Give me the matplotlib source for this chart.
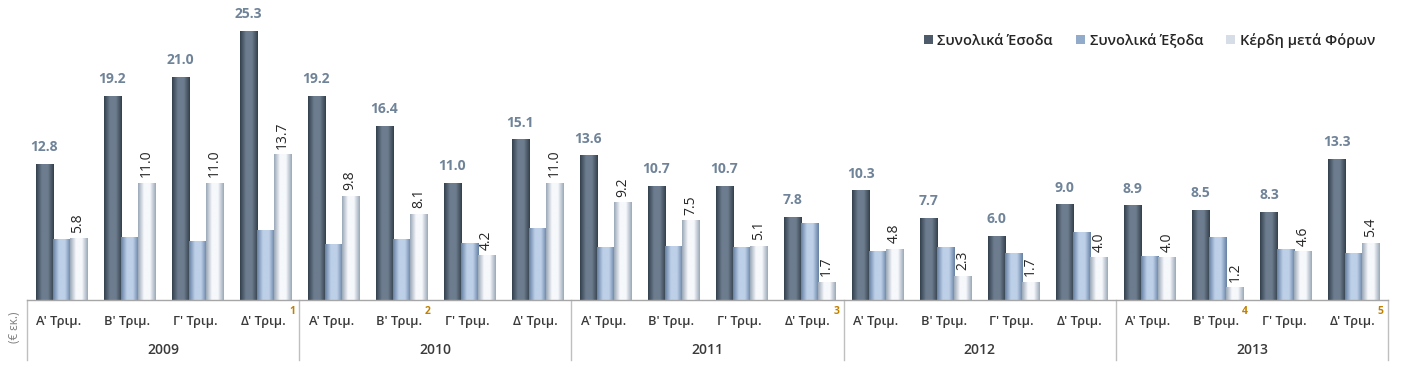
import numpy as np
import matplotlib.pyplot as plt
from matplotlib.colors import LinearSegmentedColormap
from matplotlib.patches import Patch
import matplotlib.transforms as mtransforms

plt.rcParams['font.family'] = ['Open Sans', 'DejaVu Sans']

# Data (€ million)
years = ['2009', '2010', '2011', '2012', '2013']
quarters = ["Α' Τριμ.", "Β' Τριμ.", "Γ' Τριμ.", "Δ' Τριμ."]
income = [12.8, 19.2, 21.0, 25.3, 19.2, 16.4, 11.0, 15.1, 13.6, 10.7,
          10.7, 7.8, 10.3, 7.7, 6.0, 9.0, 8.9, 8.5, 8.3, 13.3]
expenses = [5.7, 5.9, 5.5, 6.6, 5.3, 5.7, 5.4, 6.8, 5.0, 5.1,
            5.0, 7.2, 4.6, 5.0, 4.4, 6.4, 4.1, 5.9, 4.8, 4.4]
profit = [5.8, 11.0, 11.0, 13.7, 9.8, 8.1, 4.2, 11.0, 9.2, 7.5,
          5.1, 1.7, 4.8, 2.3, 1.7, 4.0, 4.0, 1.2, 4.6, 5.4]
footnotes = {3: '1', 5: '2', 11: '3', 17: '4', 19: '5'}
series_names = ['Συνολικά Έσοδα', 'Συνολικά Έξοδα', 'Κέρδη μετά Φόρων']

# bevel-like gradients (edge, centre)
grads = [('#333f4c', '#6d7d8f'), ('#6781a3', '#bdd0e8'), ('#9ba8b8', '#f6f8fb')]
solid = ['#4d5b6b', '#93abcb', '#d6dde6']

fig = plt.figure(figsize=(14.11, 3.75), dpi=100)
ax = fig.add_axes([27 / 1411, 0.2, 1361 / 1411, 0.8])

n = len(income)
x = np.arange(n)
w = 0.25

for k, vals in enumerate([income, expenses, profit]):
    bars = ax.bar(x + (k - 1) * w, vals, w, color=solid[k], edgecolor='none', zorder=2)
    cmap = LinearSegmentedColormap.from_list('g', [grads[k][0], grads[k][1], grads[k][1], grads[k][0]])
    grad = np.linspace(0, 1, 64).reshape(1, -1)
    for b in bars:
        x0, y0 = b.get_x(), b.get_y()
        im = ax.imshow(grad, cmap=cmap, aspect='auto', zorder=3,
                       extent=[x0, x0 + b.get_width(), y0, y0 + b.get_height()])
        im.set_clip_path(b)

ax.set_xlim(-0.5, n - 0.5)
ax.set_ylim(0, 28.2)

# data labels
for i in range(n):
    ax.annotate(f'{income[i]:.1f}', (x[i] - w, income[i]), xytext=(0, 7),
                textcoords='offset points', ha='center', va='bottom',
                fontsize=10, fontweight='bold', color='#6f8399')
    ax.annotate(f'{profit[i]:.1f}', (x[i] + w, profit[i]), xytext=(0, 4),
                textcoords='offset points', ha='center', va='bottom',
                rotation=90, fontsize=10, color='#262626')

for s in ax.spines.values():
    s.set_visible(False)
ax.set_yticks([])
ax.set_xticks([])

# category axis
trans = mtransforms.blended_transform_factory(ax.transData, fig.transFigure)
ax.plot([-0.5, n - 0.5], [0, 0], color='#a6a6a6', lw=1, clip_on=False, zorder=4)
for j in range(len(years) + 1):
    xb = j * 4 - 0.5
    ax.plot([xb, xb], [0.2, 15 / 375], color='#bfbfbf',
            lw=1, transform=trans, clip_on=False)
for i in range(n):
    ax.text(x[i] - 0.03, 1 - 321 / 375, quarters[i % 4], transform=trans,
            ha='center', va='center', fontsize=9.3, fontweight='semibold', color='#3a3a3a')
    if i in footnotes:
        ax.text(x[i] + 0.35, 1 - 311 / 375, footnotes[i], transform=trans,
                ha='left', va='center', fontsize=7.5, fontweight='bold', color='#c08000')
for j, yr in enumerate(years):
    ax.text(j * 4 + 1.5, 1 - 350 / 375, yr, transform=trans, ha='center', va='center',
            fontsize=10, fontweight='semibold', color='#3a3a3a')

fig.text(15 / 1411, 1 - 327 / 375, '(€ εκ.)', rotation=90, ha='center', va='center',
         fontsize=8.5, color='#808080')

handles = [Patch(facecolor=c, edgecolor='none') for c in solid]
ax.legend(handles, series_names, loc='upper right', bbox_to_anchor=(1.0, 1 - 20 / 300),
          ncol=3, frameon=False, prop={'size': 10.5, 'weight': 'semibold'},
          handlelength=0.6, handleheight=0.6,
          handletextpad=0.3, columnspacing=1.6, labelcolor='#262626')

fig.savefig('out.png', dpi=100)
